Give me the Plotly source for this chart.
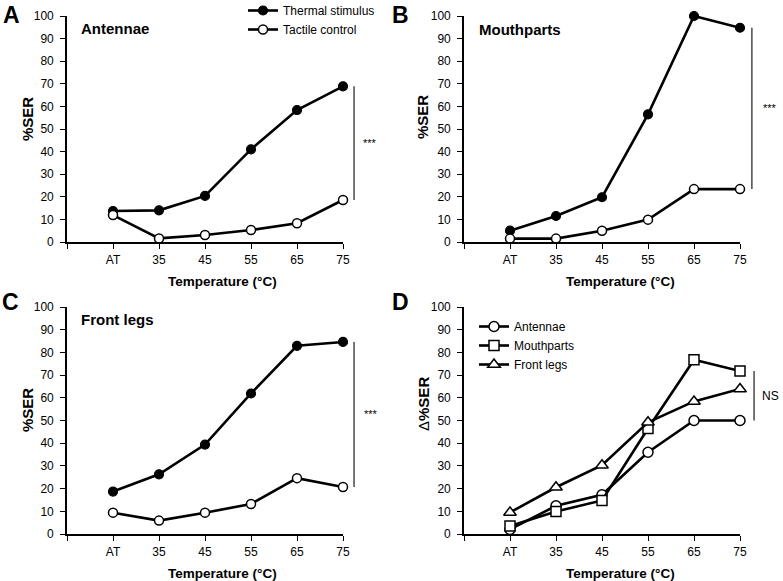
import plotly.graph_objects as go

# ---------------- data ----------------
categories = ["AT", "35", "45", "55", "65", "75"]
tick_labels = ["", "AT", "35", "45", "55", "65", "75"]

antennae_thermal = [13.7, 14.0, 20.4, 41.0, 58.4, 68.9]
antennae_tactile = [11.9, 1.6, 3.1, 5.3, 8.3, 18.6]

mouth_thermal = [5.0, 11.5, 19.8, 56.5, 100.0, 94.8]
mouth_tactile = [1.5, 1.5, 5.0, 9.9, 23.4, 23.4]

legs_thermal = [18.7, 26.3, 39.4, 61.9, 82.9, 84.6]
legs_tactile = [9.4, 5.9, 9.4, 13.2, 24.6, 20.7]

delta_antennae = [2.0, 12.4, 17.3, 36.0, 50.0, 50.0]
delta_mouth = [3.5, 9.9, 14.8, 46.5, 76.8, 71.8]
delta_legs = [9.5, 20.6, 30.3, 49.2, 58.4, 63.9]

xpos = list(range(len(categories)))
tickpos = list(range(-1, len(categories)))

W, H = 783, 581
FONT = "Liberation Sans, Arial, Helvetica, sans-serif"


def px(x):
    return x / W


def py(y):
    return 1 - y / H


fig = go.Figure()

LINE_W = 2.6
MS = 9


def add_pair(thermal, tactile, xa, ya, legend_show):
    fig.add_trace(go.Scatter(
        x=xpos, y=thermal, mode="lines+markers", name="Thermal stimulus",
        line=dict(color="black", width=LINE_W),
        marker=dict(symbol="circle", size=MS, color="black", line=dict(color="black", width=1.2)),
        xaxis=xa, yaxis=ya, cliponaxis=False, showlegend=legend_show, legend="legend"))
    fig.add_trace(go.Scatter(
        x=xpos, y=tactile, mode="lines+markers", name="Tactile control",
        line=dict(color="black", width=LINE_W),
        marker=dict(symbol="circle", size=MS, color="white", line=dict(color="black", width=1.5)),
        xaxis=xa, yaxis=ya, cliponaxis=False, showlegend=legend_show, legend="legend"))


add_pair(antennae_thermal, antennae_tactile, "x", "y", True)
add_pair(mouth_thermal, mouth_tactile, "x2", "y2", False)
add_pair(legs_thermal, legs_tactile, "x3", "y3", False)

for name, vals, sym, size in [("Antennae", delta_antennae, "circle", 10),
                              ("Mouthparts", delta_mouth, "square", 10),
                              ("Front legs", delta_legs, "triangle-up", 11)]:
    fig.add_trace(go.Scatter(
        x=xpos, y=vals, mode="lines+markers", name=name,
        line=dict(color="black", width=LINE_W),
        marker=dict(symbol=sym, size=size, color="white", line=dict(color="black", width=1.5)),
        xaxis="x4", yaxis="y4", cliponaxis=False, showlegend=True, legend="legend2"))

# ---------------- axes ----------------
xdom_left = [px(67), px(343)]
xdom_right = [px(464), px(740)]
ydom_top = [py(242), py(16)]
ydom_bot = [py(534), py(307)]

xcommon = dict(range=[-1, 5], tickmode="array", tickvals=tickpos, ticktext=tick_labels,
               showline=True, linecolor="black", linewidth=1.6, ticks="outside",
               ticklen=5, tickwidth=1.4, tickcolor="black", showgrid=False, zeroline=False,
               automargin=False,
               tickfont=dict(family=FONT, size=12, color="black"), ticklabelstandoff=1)
ycommon = dict(range=[0, 100], tickmode="array", tickvals=list(range(0, 101, 10)),
               showline=True, linecolor="black", linewidth=1.6, ticks="outside",
               ticklen=5, tickwidth=1.4, tickcolor="black", showgrid=False, zeroline=False,
               automargin=False,
               tickfont=dict(family=FONT, size=12, color="black"), ticklabelstandoff=4)

fig.update_layout(
    xaxis=dict(domain=xdom_left, anchor="y", **xcommon),
    yaxis=dict(domain=ydom_top, anchor="x", **ycommon),
    xaxis2=dict(domain=xdom_right, anchor="y2", **xcommon),
    yaxis2=dict(domain=ydom_top, anchor="x2", **ycommon),
    xaxis3=dict(domain=xdom_left, anchor="y3", **xcommon),
    yaxis3=dict(domain=ydom_bot, anchor="x3", **ycommon),
    xaxis4=dict(domain=xdom_right, anchor="y4", **xcommon),
    yaxis4=dict(domain=ydom_bot, anchor="x4", **ycommon),
)

# ---------------- significance bars ----------------
sig = [
    ("x domain", "y", 1.040, 1.065, antennae_thermal[-1], antennae_tactile[-1], "***"),
    ("x2 domain", "y2", 1.043, 1.075, mouth_thermal[-1], mouth_tactile[-1], "***"),
    ("x3 domain", "y3", 1.040, 1.068, legs_thermal[-1], legs_tactile[-1], "***"),
    ("x4 domain", "y4", 1.051, 1.072,
     max(delta_antennae[-1], delta_mouth[-1], delta_legs[-1]),
     min(delta_antennae[-1], delta_mouth[-1], delta_legs[-1]), "NS"),
]
shapes = []
annotations = []
for xa, ya, xx, xt, y0, y1, label in sig:
    shapes.append(dict(type="line", xref=xa, yref=ya, x0=xx, x1=xx, y0=y0, y1=y1,
                       line=dict(color="#555555", width=1.6)))
    annotations.append(dict(xref=xa, yref=ya, x=xt, y=(y0 + y1) / 2, text=label,
                            showarrow=False, xanchor="left", yanchor="middle",
                            font=dict(family=FONT, size=12 if label == "NS" else 11, color="black")))

# ---------------- text ----------------
def paper_text(x, y, text, size, bold=True, angle=0, xanchor="center"):
    annotations.append(dict(xref="paper", yref="paper", x=px(x), y=py(y),
                            text=f"<b>{text}</b>" if bold else text, showarrow=False,
                            xanchor=xanchor, yanchor="middle", textangle=angle,
                            font=dict(family=FONT, size=size, color="black")))


for letter, x, y in [("A", 11, 15), ("B", 400, 15), ("C", 10, 302), ("D", 400, 302)]:
    paper_text(x, y, letter, 23)

paper_text(79, 28, "Antennae", 15, xanchor="left")
paper_text(477, 29, "Mouthparts", 15, xanchor="left")
paper_text(79, 319, "Front legs", 15, xanchor="left")

for x, y in [(222, 281), (620, 281), (222, 573), (620, 573)]:
    paper_text(x, y, "Temperature (°C)", 13.5)

paper_text(27, 119, "%SER", 15, angle=-90)
paper_text(423, 117, "%SER", 15, angle=-90)
paper_text(27, 410, "%SER", 15, angle=-90)
annotations.append(dict(xref="paper", yref="paper", x=px(423), y=py(404),
                        text="Δ<b>%SER</b>", showarrow=False, xanchor="center",
                        yanchor="middle", textangle=-90,
                        font=dict(family=FONT, size=15, color="black")))

fig.update_layout(
    width=W, height=H,
    margin=dict(l=0, r=0, t=0, b=0, autoexpand=False),
    paper_bgcolor="white", plot_bgcolor="white",
    font=dict(family=FONT, size=12, color="black"),
    shapes=shapes, annotations=annotations,
    legend=dict(x=px(243), y=py(-4), xanchor="left", yanchor="top",
                bgcolor="rgba(0,0,0,0)", borderwidth=0, itemwidth=30,
                font=dict(family=FONT, size=12, color="black"), tracegroupgap=0),
    legend2=dict(x=px(474), y=py(312), xanchor="left", yanchor="top",
                 bgcolor="rgba(0,0,0,0)", borderwidth=0, itemwidth=30,
                 font=dict(family=FONT, size=12, color="black"), tracegroupgap=0),
)

fig.write_html("out.html",
               config={"displayModeBar": False},
               post_script="document.body.style.margin='0';document.body.style.overflow='hidden';")
